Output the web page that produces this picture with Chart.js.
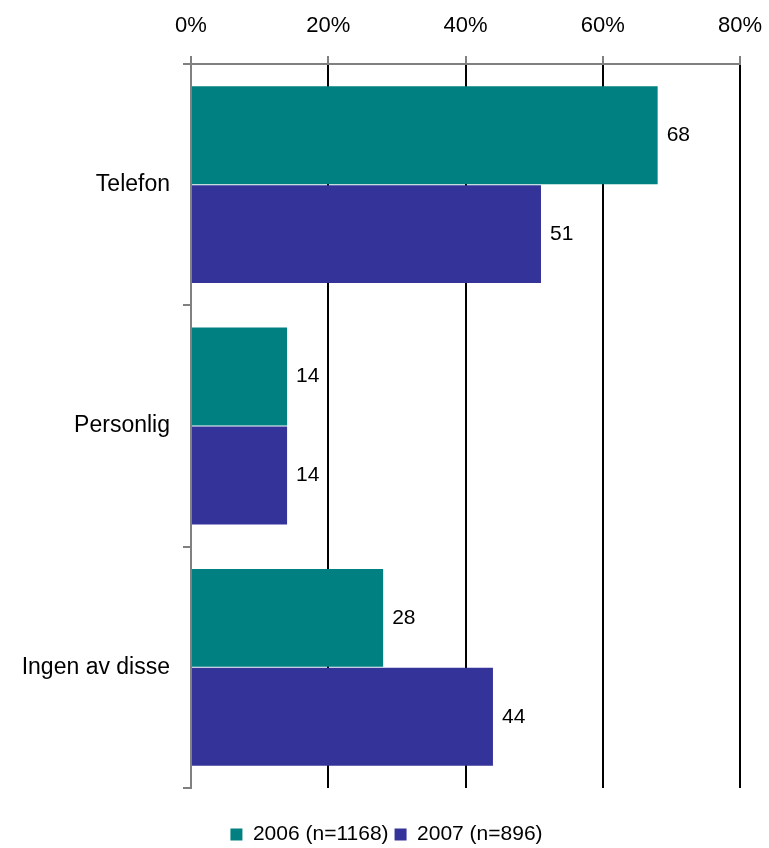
<!DOCTYPE html>
<html>
<head>
<meta charset="utf-8">
<script src="https://cdn.jsdelivr.net/npm/chart.js@4.4.1/dist/chart.umd.min.js"></script>
<style>
  body { margin: 0; background: #fff; }
  #wrap { width: 769px; height: 848px; position: relative; }
</style>
</head>
<body>
<div id="wrap"><canvas id="chart"></canvas></div>
<script>
const categories = ['Telefon', 'Personlig', 'Ingen av disse'];
const seriesNames = ['2006 (n=1168)', '2007 (n=896)'];
const values2006 = [68, 14, 28];
const values2007 = [51, 14, 44];
const tickLabels = ['0%', '20%', '40%', '60%', '80%'];

const fontFamily = '"Liberation Sans", Arial, sans-serif';

// numbers at the end of each bar
const valueLabels = {
    id: 'valueLabels',
    afterDatasetsDraw(chart) {
        const ctx = chart.ctx;
        ctx.save();
        ctx.font = '21px ' + fontFamily;
        ctx.fillStyle = '#000';
        ctx.textBaseline = 'middle';
        ctx.textAlign = 'left';
        chart.data.datasets.forEach((ds, i) => {
            chart.getDatasetMeta(i).data.forEach((bar, j) => {
                ctx.fillText(ds.data[j], bar.x + 9, bar.y);
            });
        });
        ctx.restore();
    }
};

new Chart(document.getElementById('chart'), {
    type: 'bar',
    data: {
        labels: categories,
        datasets: [
            { label: seriesNames[0], data: values2006, backgroundColor: '#008080' },
            { label: seriesNames[1], data: values2007, backgroundColor: '#333399' }
        ]
    },
    options: {
        indexAxis: 'y',
        responsive: true,
        maintainAspectRatio: false,
        animation: false,
        categoryPercentage: 0.82,
        barPercentage: 0.99,
        layout: { padding: { top: 0, right: 4, bottom: -7, left: 8 } },
        scales: {
            x: {
                position: 'top',
                min: 0,
                max: 80,
                afterFit: scale => {
                    scale.height = 64;
                    scale.paddingRight = 29;
                },
                ticks: {
                    stepSize: 20,
                    padding: 17,
                    color: '#000',
                    font: { family: fontFamily, size: 22 },
                    callback: (v, i) => tickLabels[i]
                },
                grid: {
                    color: ctx => ctx.index === 0 ? '#808080' : '#000',
                    lineWidth: 2,
                    tickLength: 8,
                    tickColor: '#808080'
                },
                border: { color: '#808080', width: 2 }
            },
            y: {
                afterFit: scale => { scale.width = 183; },
                ticks: {
                    color: '#000',
                    padding: 13,
                    font: { family: fontFamily, size: 23 }
                },
                grid: {
                    drawOnChartArea: false,
                    tickLength: 8,
                    color: '#808080',
                    lineWidth: 2
                },
                border: { color: '#808080', width: 2 }
            }
        },
        plugins: {
            legend: {
                position: 'bottom',
                title: { display: true, text: ' ', padding: { top: 18, bottom: 0 }, font: { size: 10 } },
                labels: {
                    boxWidth: 12,
                    boxHeight: 12,
                    padding: 6,
                    color: '#000',
                    font: { family: fontFamily, size: 21 }
                }
            },
            tooltip: { enabled: false }
        }
    },
    plugins: [valueLabels]
});
</script>
</body>
</html>
